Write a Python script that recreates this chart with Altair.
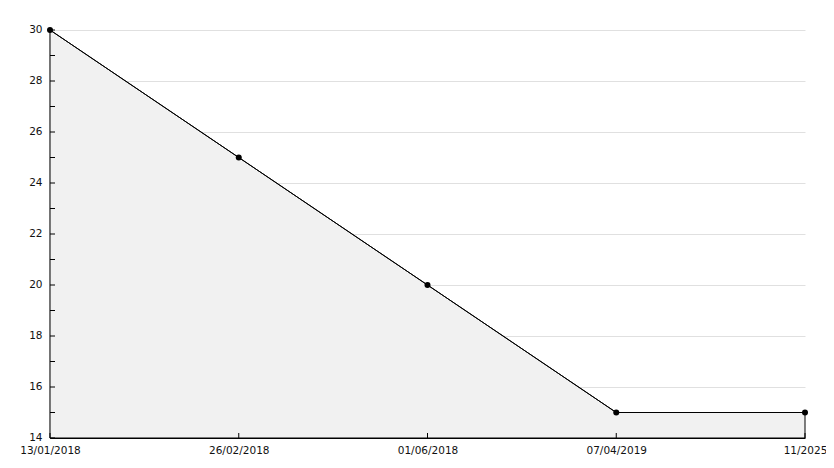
import altair as alt
import pandas as pd

labels = ["13/01/2018", "26/02/2018", "01/06/2018", "07/04/2019", "11/2025"]
values = [30, 25, 20, 15, 15]
y_major = [14, 16, 18, 20, 22, 24, 26, 28, 30]
y_ticks = list(range(14, 31))
y_base = 14

W, H = 755, 408

df = pd.DataFrame({"label": labels, "value": values})
ticks_df = pd.DataFrame({"v": y_ticks})

xs = alt.Scale(type="point", padding=0, domain=labels)
ys = alt.Scale(domain=[14, 30], nice=False, zero=False)

font = "DejaVu Sans"

xenc = alt.X("label:O", scale=xs, sort=labels, title=None)
yenc = alt.Y("value:Q", scale=ys, title=None)

area = alt.Chart(df).mark_area(
    fill="#f1f1f1", stroke="black", strokeWidth=1, interpolate="linear"
).encode(
    x=alt.X("label:O", scale=xs, sort=labels, title=None,
            axis=alt.Axis(labelAngle=0)),
    y=alt.Y("value:Q", scale=ys, title=None,
            axis=alt.Axis(values=y_major)),
    y2=alt.datum(y_base),
)

line = alt.Chart(df).mark_line(color="black", strokeWidth=1).encode(
    x=xenc, y=yenc,
)

pts = alt.Chart(df).mark_point(shape="circle", filled=True, color="black",
                               size=36, opacity=1).encode(
    x=xenc, y=yenc,
)

yticks = alt.Chart(ticks_df).mark_rule(color="black", strokeWidth=1).encode(
    y=alt.Y("v:Q", scale=ys, title=None),
    x=alt.value(0),
    x2=alt.value(5),
)

xticks = alt.Chart(df).mark_rule(color="black", strokeWidth=1).encode(
    x=xenc,
    y=alt.value(H - 5),
    y2=alt.value(H),
)

chart = alt.layer(area, yticks, xticks, line, pts).properties(
    width=W, height=H,
    autosize=alt.AutoSizeParams(type="none"),
    padding={"left": 42, "top": 22, "right": 21, "bottom": 22},
).configure_view(
    stroke=None
).configure_axis(
    ticks=False, domainColor="black", domainWidth=1.2,
    labelFont=font, labelFontSize=10.5, labelColor="#111111",
).configure_axisX(
    grid=False, labelPadding=7, labelAngle=0,
).configure_axisY(
    grid=True, gridColor="#e0e0e0", gridWidth=1, labelPadding=8,
    labelOffset=-1,
)

chart.save("out.html", embed_options={"renderer": "svg", "actions": False})
